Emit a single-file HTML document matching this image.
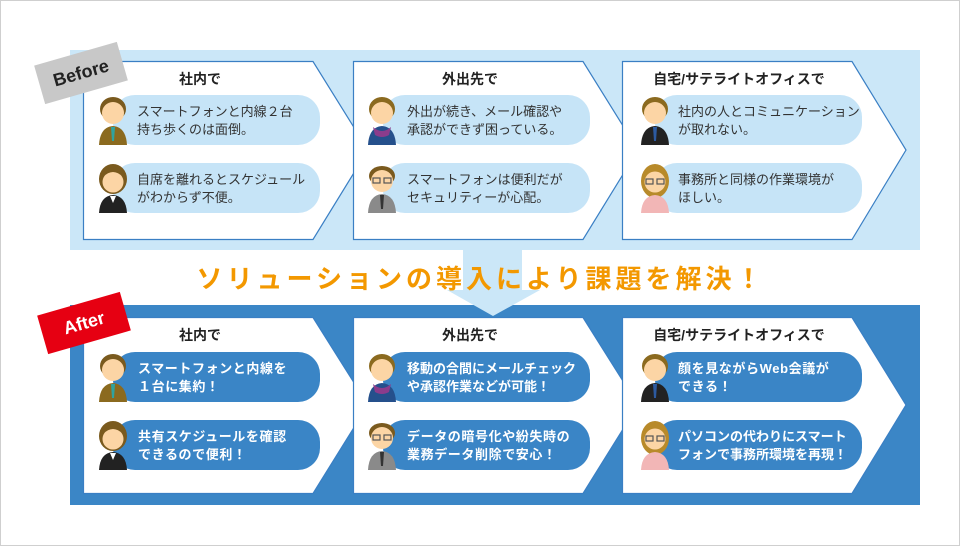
<!DOCTYPE html>
<html><head><meta charset="utf-8">
<style>
html,body{margin:0;padding:0;background:#fff;}
#c{position:relative;width:958px;height:544px;border:1px solid #cfcfcf;overflow:hidden;font-family:"Liberation Sans","Noto Sans CJK JP",sans-serif;}
.t{position:absolute;font-size:13px;line-height:18px;white-space:nowrap;}
.b{color:#333;}
.a{color:#fff;font-weight:bold;letter-spacing:0.6px;}
.h{position:absolute;font-size:14px;font-weight:bold;color:#222;text-align:center;width:230px;}
.tag{position:absolute;width:86px;height:40px;line-height:40px;text-align:center;font-size:18px;font-weight:bold;transform:rotate(-16deg);}
.title{position:absolute;left:0;width:960px;top:258px;text-align:center;font-size:26px;font-weight:bold;color:#f39800;letter-spacing:4px;}
</style></head><body><div id="c">
<svg width="960" height="546" style="position:absolute;left:-1px;top:-1px">
<defs>
<g id="m1"><ellipse cx="15" cy="14" rx="13" ry="12" fill="#7a5a1e"/><circle cx="15" cy="18" r="11" fill="#fcd5a5"/><path d="M4 11 Q15 0 26 11 L26 8 Q15 -2 4 8Z" fill="#7a5a1e"/><path d="M1 50 Q2 32 15 31 Q28 32 29 50Z" fill="#8b6a1f"/><path d="M13 32 L17 32 L16 46 L14 46Z" fill="#2fa3a0"/></g>
<g id="f1"><ellipse cx="15" cy="16" rx="14" ry="15" fill="#7a5a1e"/><circle cx="15" cy="19" r="10.5" fill="#fcd5a5"/><path d="M5 14 Q15 4 25 14 L25 9 Q15 0 5 9Z" fill="#7a5a1e"/><path d="M1 50 Q2 33 15 32 Q28 33 29 50Z" fill="#222"/><path d="M12 33 L15 40 L18 33Z" fill="#fff"/></g>
<g id="m2"><ellipse cx="15" cy="14" rx="13" ry="12" fill="#8b6a1f"/><circle cx="15" cy="18" r="11" fill="#fcd5a5"/><path d="M1 50 Q2 32 15 31 Q28 32 29 50Z" fill="#25508c"/><path d="M6 32 Q15 40 24 32 L22 40 Q15 44 8 40Z" fill="#8b3c8c"/></g>
<g id="m3"><ellipse cx="15" cy="13" rx="13" ry="10" fill="#7a5a1e"/><circle cx="15" cy="18" r="11" fill="#fcd5a5"/><rect x="6" y="15" width="7" height="5" fill="none" stroke="#555" stroke-width="1.2"/><rect x="17" y="15" width="7" height="5" fill="none" stroke="#555" stroke-width="1.2"/><path d="M1 50 Q2 32 15 31 Q28 32 29 50Z" fill="#8a8a8a"/><path d="M13 32 L17 32 L16 46 L14 46Z" fill="#333"/></g>
<g id="m4"><ellipse cx="15" cy="14" rx="13" ry="12" fill="#8b6a1f"/><circle cx="15" cy="18" r="11" fill="#fcd5a5"/><path d="M1 50 Q2 32 15 31 Q28 32 29 50Z" fill="#222"/><path d="M13 32 L17 32 L16 46 L14 46Z" fill="#2c5aa0"/></g>
<g id="f2"><ellipse cx="15" cy="18" rx="14" ry="17" fill="#b88a2a"/><circle cx="15" cy="19" r="10.5" fill="#fcd5a5"/><rect x="6" y="16" width="7" height="5" fill="none" stroke="#555" stroke-width="1.2"/><rect x="17" y="16" width="7" height="5" fill="none" stroke="#555" stroke-width="1.2"/><path d="M1 50 Q2 33 15 32 Q28 33 29 50Z" fill="#f2b6b6"/></g>
</defs>
<rect x="70" y="50" width="850" height="200" fill="#cbe7f8"/>
<rect x="70" y="305" width="850" height="200" fill="#3b86c6"/>
<path d="M463 250 H522 V290 H540 L493 316 L447 290 H463Z" fill="#cbe7f8"/>
<g fill="#fff" stroke="#3a7fc4" stroke-width="1.2">
<path d="M83.5 61.5 H313 L368 150 L313 239.5 H83.5Z"/>
<path d="M353.5 61.5 H583 L638 150 L583 239.5 H353.5Z"/>
<path d="M622.5 61.5 H852 L906 150 L852 239.5 H622.5Z"/>
<path d="M83.5 317.5 H313 L368 405 L313 493.5 H83.5Z"/>
<path d="M353.5 317.5 H583 L638 405 L583 493.5 H353.5Z"/>
<path d="M622.5 317.5 H852 L906 405 L852 493.5 H622.5Z"/>
</g>
<g fill="#c6e4f7">
<rect x="113" y="95" width="207" height="50" rx="22"/><rect x="113" y="163" width="207" height="50" rx="22"/>
<rect x="383" y="95" width="207" height="50" rx="22"/><rect x="383" y="163" width="207" height="50" rx="22"/>
<rect x="655" y="95" width="207" height="50" rx="22"/><rect x="655" y="163" width="207" height="50" rx="22"/>
</g>
<g fill="#3a85c6">
<rect x="113" y="352" width="207" height="50" rx="22"/><rect x="113" y="420" width="207" height="50" rx="22"/>
<rect x="383" y="352" width="207" height="50" rx="22"/><rect x="383" y="420" width="207" height="50" rx="22"/>
<rect x="655" y="352" width="207" height="50" rx="22"/><rect x="655" y="420" width="207" height="50" rx="22"/>
</g>
<use href="#m1" x="98" y="95"/><use href="#f1" x="98" y="163"/>
<use href="#m2" x="367" y="95"/><use href="#m3" x="367" y="163"/>
<use href="#m4" x="640" y="95"/><use href="#f2" x="640" y="163"/>
<use href="#m1" x="98" y="352"/><use href="#f1" x="98" y="420"/>
<use href="#m2" x="367" y="352"/><use href="#m3" x="367" y="420"/>
<use href="#m4" x="640" y="352"/><use href="#f2" x="640" y="420"/>
</svg>
<div class="tag" style="left:37px;top:52px;background:#c8c8c8;color:#222;">Before</div>
<div class="tag" style="left:40px;top:302px;background:#e60012;color:#fff;">After</div>
<div class="h" style="left:84px;top:68px">社内で</div>
<div class="h" style="left:354px;top:68px">外出先で</div>
<div class="h" style="left:623px;top:68px">自宅/サテライトオフィスで</div>
<div class="h" style="left:84px;top:324px">社内で</div>
<div class="h" style="left:354px;top:324px">外出先で</div>
<div class="h" style="left:623px;top:324px">自宅/サテライトオフィスで</div>
<div class="t b" style="left:136px;top:102px">スマートフォンと内線２台<br>持ち歩くのは面倒。</div>
<div class="t b" style="left:136px;top:170px">自席を離れるとスケジュール<br>がわからず不便。</div>
<div class="t b" style="left:406px;top:102px">外出が続き、メール確認や<br>承認ができず困っている。</div>
<div class="t b" style="left:406px;top:170px">スマートフォンは便利だが<br>セキュリティーが心配。</div>
<div class="t b" style="left:677px;top:102px">社内の人とコミュニケーション<br>が取れない。</div>
<div class="t b" style="left:677px;top:170px">事務所と同様の作業環境が<br>ほしい。</div>
<div class="t a" style="left:137px;top:359px">スマートフォンと内線を<br>１台に集約！</div>
<div class="t a" style="left:137px;top:427px">共有スケジュールを確認<br>できるので便利！</div>
<div class="t a" style="left:406px;top:359px;letter-spacing:0">移動の合間にメールチェック<br>や承認作業などが可能！</div>
<div class="t a" style="left:406px;top:427px">データの暗号化や紛失時の<br>業務データ削除で安心！</div>
<div class="t a" style="left:677px;top:359px">顔を見ながらWeb会議が<br>できる！</div>
<div class="t a" style="left:677px;top:427px;letter-spacing:0">パソコンの代わりにスマート<br>フォンで事務所環境を再現！</div>
<div class="title">ソリューションの導入により課題を解決！</div>
</div></body></html>
